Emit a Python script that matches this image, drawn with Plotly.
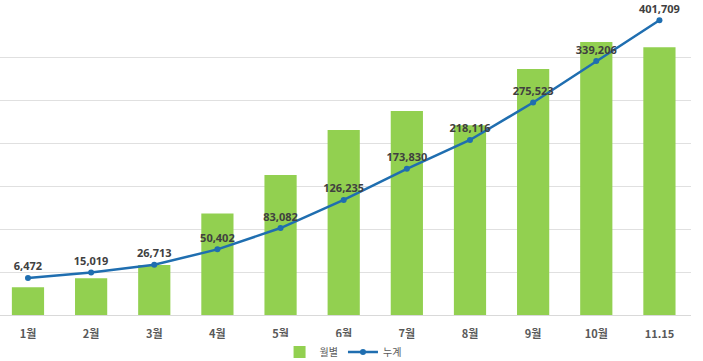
import plotly.graph_objects as go

categories = ["1월", "2월", "3월", "4월", "5월", "6월", "7월", "8월", "9월", "10월", "11.15"]
cumulative = [6472, 15019, 26713, 50402, 83082, 126235, 173830, 218116, 275523, 339206, 401709]
monthly = [6472, 8547, 11694, 23689, 32680, 43153, 47595, 44286, 57407, 63683, 62503]
cum_labels = [f"{v:,}" for v in cumulative]

fig = go.Figure()
fig.add_trace(go.Bar(
    x=categories, y=monthly, name="월별",
    marker=dict(color="#92D050", line=dict(width=0)),
    yaxis="y",
))
fig.add_trace(go.Scatter(
    x=categories, y=cumulative, name="누계", yaxis="y2",
    mode="lines+markers+text",
    line=dict(color="#1F6EB0", width=2.5),
    marker=dict(color="#1F6EB0", size=6),
    text=cum_labels, textposition="top center",
    textfont=dict(family="Noto Sans", size=11, color="#404040", weight="bold"),
    cliponaxis=False,
))

fig.update_layout(
    width=703, height=361,
    margin=dict(l=0, r=12, t=14, b=46, autoexpand=False),
    plot_bgcolor="white", paper_bgcolor="white",
    bargap=0.49,
    showlegend=True,
    legend=dict(orientation="h", x=0.488, xanchor="center", xref="container",
                y=0.025, yanchor="middle", yref="container",
                font=dict(family="Noto Sans CJK KR", size=10, color="#595959"),
                itemwidth=30, tracegroupgap=0),
    xaxis=dict(range=[-0.443, 10.5], showgrid=False, showline=True, linecolor="#D9D9D9",
               ticks="", automargin=False, ticklabelstandoff=9,
               tickfont=dict(family="Noto Sans CJK KR", size=11, color="#595959", weight="bold")),
    yaxis=dict(range=[0, 70233], dtick=10000, showgrid=True, gridcolor="#E0E0E0",
               showticklabels=False, zeroline=False, automargin=False),
    yaxis2=dict(range=[-50300, 411334], overlaying="y", side="right", showgrid=False,
                showticklabels=False, zeroline=False, automargin=False),
)

fig.write_html("out.html", config={"displayModeBar": False},
               post_script="document.body.style.margin='0';document.body.style.overflow='hidden';")
